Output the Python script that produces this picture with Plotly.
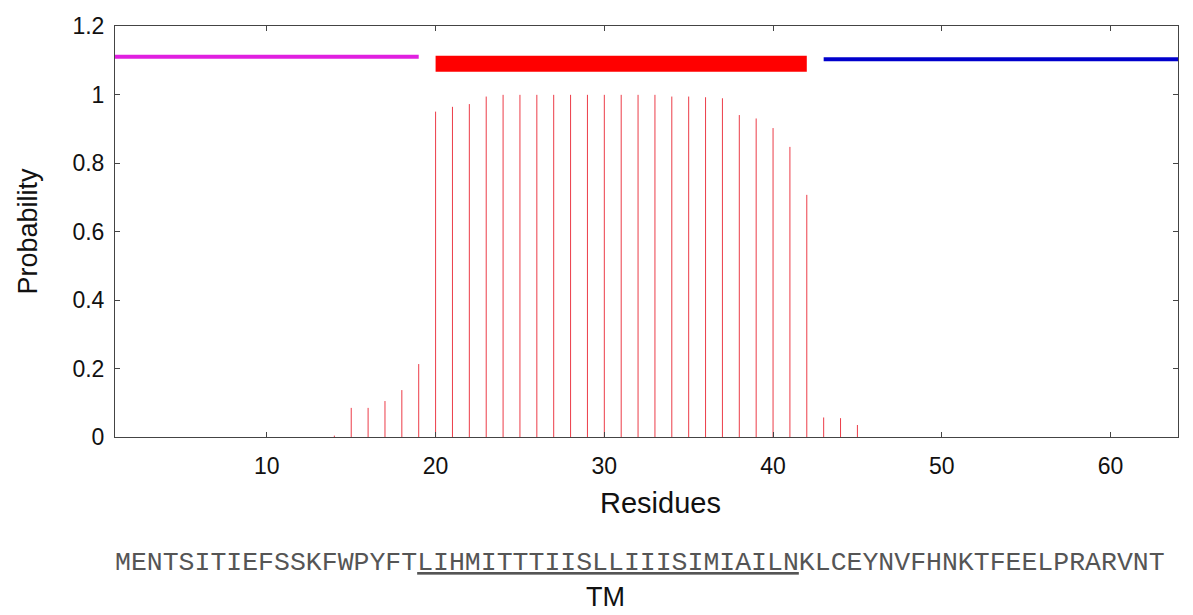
import plotly.graph_objects as go

# Residue-wise TM probability
residues = list(range(1, 65))
probability = [0, 0, 0, 0, 0, 0, 0, 0, 0, 0,
               0, 0, 0, 0.004, 0.085, 0.085, 0.105, 0.137, 0.213, 0.950,
               0.964, 0.972, 0.994, 0.999, 0.999, 0.999, 0.999, 0.999, 0.999, 0.999,
               0.999, 0.999, 0.999, 0.994, 0.994, 0.992, 0.989, 0.940, 0.930, 0.902,
               0.847, 0.707, 0.057, 0.055, 0.035, 0, 0, 0, 0, 0,
               0, 0, 0, 0, 0, 0, 0, 0, 0, 0,
               0, 0, 0, 0]

# Topology segments
seg_names = ["outside", "TM", "inside"]
seg_start = [1, 20, 43]
seg_end = [19, 42, 64]
seg_level = [1.110, 1.090, 1.103]
seg_color = ["#e020e0", "#ff0000", "#0000cc"]
seg_width = [4, 16, 4]

sequence = "MENTSITIEFSSKFWPYFTLIHMITTTIISLLIIISIMIAILNKLCEYNVFHNKTFEELPRARVNT"
tm_text = "LIHMITTTIISLLIIISIMIAILN"
tm_label = "TM"
x_title = "Residues"
y_title = "Probability"

x_ticks = [10, 20, 30, 40, 50, 60]
y_ticks = [0, 0.2, 0.4, 0.6, 0.8, 1.0, 1.2]

fig = go.Figure()

xs, ys = [], []
for r, p in zip(residues, probability):
    if p > 0:
        xs += [r, r, None]
        ys += [0, p, None]
fig.add_trace(go.Scatter(x=xs, y=ys, mode="lines",
                         line=dict(color="rgb(236,60,72)", width=1),
                         hoverinfo="skip", showlegend=False))

for name, s, e, lv, c, w in zip(seg_names, seg_start, seg_end, seg_level, seg_color, seg_width):
    fig.add_trace(go.Scatter(x=[s, e], y=[lv, lv], mode="lines", name=name,
                             line=dict(color=c, width=w), showlegend=False))

axis_common = dict(showline=True, linecolor="#444", linewidth=1, mirror="allticks",
                   ticks="inside", ticklen=5, tickcolor="#444", showgrid=False,
                   zeroline=False,
                   tickfont=dict(family="Liberation Sans, Arial", size=23, color="#111"))

fig.update_xaxes(range=[1, 64], tickvals=x_ticks, ticklabelstandoff=8, **axis_common)
fig.update_yaxes(range=[0, 1.2], tickvals=y_ticks, ticklabelstandoff=5, **axis_common,
                 title=dict(text=y_title, font=dict(family="Liberation Sans, Arial", size=27, color="#111"),
                            standoff=26))

fig.add_annotation(text=x_title, xref="paper", yref="paper", x=0.513, y=-0.161,
                   xanchor="center", yanchor="middle", showarrow=False,
                   font=dict(family="Liberation Sans, Arial", size=29, color="#111"))

i0 = sequence.find(tm_text)
seq_html = sequence[:i0] + "<u>" + tm_text + "</u>" + sequence[i0 + len(tm_text):]
fig.add_annotation(text=seq_html, xref="paper", yref="paper", x=-0.002, y=-0.307,
                   xanchor="left", yanchor="middle", showarrow=False,
                   font=dict(family="Liberation Mono, Courier New, monospace", size=26.5, color="#555"))
fig.add_annotation(text=tm_label, xref="paper", yref="paper", x=0.461, y=-0.389,
                   xanchor="center", yanchor="middle", showarrow=False,
                   font=dict(family="Liberation Sans, Arial", size=27, color="#111"))

fig.update_layout(width=1193, height=615, plot_bgcolor="white", paper_bgcolor="white",
                  margin=dict(l=115, r=15, t=26, b=178))

fig.write_html("out.html")
